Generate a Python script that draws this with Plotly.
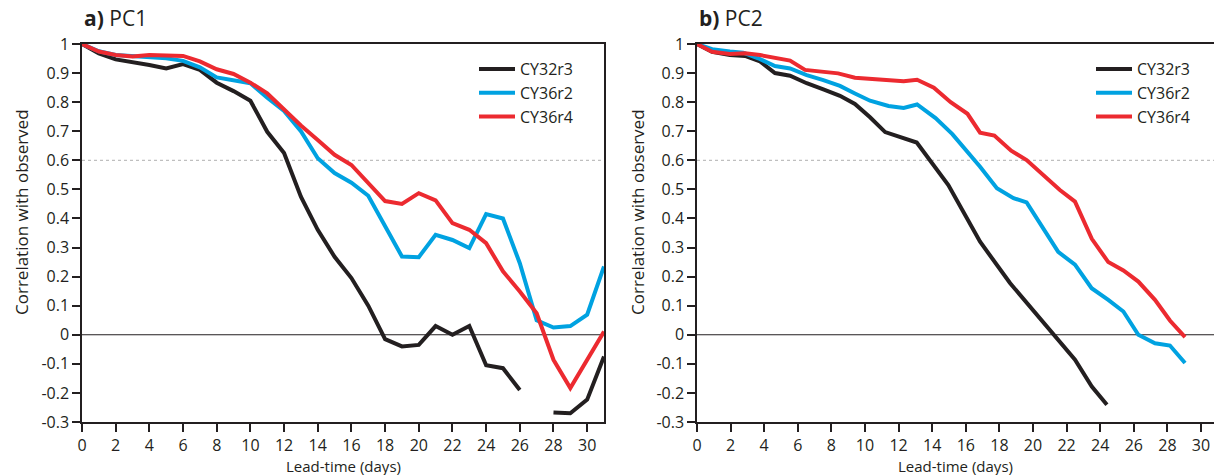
import plotly.graph_objects as go

# ---------------- data ----------------
days_a = list(range(0, 32))
cy32r3_a = [1.0, 0.968, 0.947, 0.939, 0.928, 0.916, 0.931, 0.911, 0.867, 0.838, 0.805, 0.698,
            0.625, 0.475, 0.361, 0.268, 0.195, 0.10, -0.015, -0.04, -0.035, 0.03, 0.0, 0.03,
            -0.105, -0.115, -0.19, None, -0.267, -0.27, -0.223, -0.075]
cy36r2_a = [1.0, 0.975, 0.962, 0.958, 0.955, 0.951, 0.942, 0.92, 0.885, 0.876, 0.865, 0.815,
            0.77, 0.70, 0.607, 0.556, 0.523, 0.478, 0.372, 0.269, 0.267, 0.344, 0.326, 0.298,
            0.415, 0.40, 0.246, 0.05, 0.025, 0.03, 0.069, 0.235]
cy36r4_a = [1.0, 0.974, 0.962, 0.957, 0.962, 0.962, 0.959, 0.94, 0.913, 0.897, 0.867, 0.83,
            0.775, 0.72, 0.67, 0.619, 0.584, 0.521, 0.46, 0.45, 0.487, 0.462, 0.384, 0.361,
            0.315, 0.218, 0.149, 0.074, -0.086, -0.183, -0.086, 0.011]

cy32r3_b_x = [0, 0.9, 1.96, 2.86, 3.75, 4.64, 5.54, 6.53, 7.52, 8.51, 9.4, 10.3, 11.2, 13.08,
              14.96, 16.85, 18.63, 19.9, 22.5, 23.5, 24.4]
cy32r3_b_y = [1.0, 0.973, 0.962, 0.959, 0.94, 0.90, 0.891, 0.865, 0.844, 0.822, 0.794, 0.748,
              0.697, 0.661, 0.515, 0.32, 0.178, 0.09, -0.086, -0.178, -0.241]
cy36r2_b_x = [0, 0.9, 1.96, 2.75, 3.64, 4.64, 5.54, 6.53, 7.52, 8.51, 9.4, 10.3, 11.4, 12.3,
              13.1, 14.2, 15.2, 16.85, 17.85, 18.84, 19.62, 21.5, 22.5, 23.49, 24.48, 25.38,
              26.27, 27.26, 28.15, 29.05]
cy36r2_b_y = [1.0, 0.982, 0.974, 0.97, 0.951, 0.924, 0.916, 0.893, 0.876, 0.856, 0.83, 0.805,
              0.787, 0.78, 0.792, 0.745, 0.69, 0.578, 0.504, 0.47, 0.455, 0.285, 0.241, 0.16,
              0.12, 0.08, 0.0, -0.029, -0.037, -0.097]
cy36r4_b_x = [0, 0.9, 1.96, 2.86, 3.75, 4.64, 5.54, 6.43, 7.52, 8.4, 9.4, 10.4, 11.4, 12.3,
              13.1, 14.1, 15.1, 16.1, 16.85, 17.7, 18.7, 19.62, 21.6, 22.5, 23.5, 24.48, 25.38,
              26.27, 27.26, 28.15, 29.05]
cy36r4_b_y = [1.0, 0.973, 0.966, 0.968, 0.962, 0.954, 0.943, 0.911, 0.903, 0.899, 0.884, 0.879,
              0.874, 0.872, 0.877, 0.85, 0.80, 0.76, 0.695, 0.685, 0.633, 0.601, 0.498, 0.458,
              0.33, 0.25, 0.221, 0.183, 0.12, 0.049, -0.008]

series_names = ["CY32r3", "CY36r2", "CY36r4"]
series_colors = ["#231f20", "#00a2e1", "#ec2a30"]

y_tickvals = [1, 0.9, 0.8, 0.7, 0.6, 0.5, 0.4, 0.3, 0.2, 0.1, 0, -0.1, -0.2, -0.3]
y_ticktext = ["1", "0.9", "0.8", "0.7", "0.6", "0.5", "0.4", "0.3", "0.2", "0.1", "0",
              "-0.1", "-0.2", "-0.3"]
x_tickvals = list(range(0, 31, 2))

# ---------------- figure ----------------
W, H = 1214, 475
ML, MR, MT, MB = 82, 0, 44, 53
PW = W - ML - MR
PH = H - MT - MB
FONT = "Open Sans"
TXT = "#231f20"

fig = go.Figure()

left = [(days_a, cy32r3_a), (days_a, cy36r2_a), (days_a, cy36r4_a)]
right = [(cy32r3_b_x, cy32r3_b_y), (cy36r2_b_x, cy36r2_b_y), (cy36r4_b_x, cy36r4_b_y)]

for i, (xs, ys) in enumerate(left):
    fig.add_trace(go.Scatter(x=xs, y=ys, mode="lines", name=series_names[i],
                             line=dict(color=series_colors[i], width=4),
                             connectgaps=False, xaxis="x", yaxis="y", legend="legend"))
for i, (xs, ys) in enumerate(right):
    fig.add_trace(go.Scatter(x=xs, y=ys, mode="lines", name=series_names[i],
                             line=dict(color=series_colors[i], width=4),
                             xaxis="x2", yaxis="y2", legend="legend2"))

def px2x(px):
    return (px - ML) / PW

def px2y(py):
    return 1 - (py - MT) / PH

left_dom = [0, px2x(604)]
right_dom = [px2x(697), 1]
right_end = (W - 697) / 16.8

axis_common = dict(showline=True, linecolor=TXT, linewidth=1.5, ticks="outside", ticklen=8,
                   tickwidth=1.5, tickcolor=TXT, showgrid=False, zeroline=False,
                   tickfont=dict(family=FONT, size=16, color=TXT))

legend_common = dict(xanchor="left", yanchor="top", bgcolor="rgba(0,0,0,0)",
                     font=dict(family=FONT, size=16, color=TXT), tracegroupgap=0,
                     itemwidth=36)

fig.update_layout(
    width=W, height=H, margin=dict(l=ML, r=MR, t=MT, b=MB),
    plot_bgcolor="white", paper_bgcolor="white", showlegend=True,
    xaxis=dict(domain=left_dom, range=[0, 31], tickvals=x_tickvals, anchor="y", mirror=True,
               **axis_common),
    yaxis=dict(domain=[0, 1], range=[-0.3, 1], tickvals=y_tickvals, ticktext=y_ticktext,
               anchor="x", mirror=True, **axis_common),
    xaxis2=dict(domain=right_dom, range=[0, right_end], tickvals=x_tickvals, anchor="y2",
                mirror=True, **axis_common),
    yaxis2=dict(domain=[0, 1], range=[-0.3, 1], tickvals=y_tickvals, ticktext=y_ticktext,
                anchor="x2", mirror=False, **axis_common),
    legend=dict(x=px2x(474), y=px2y(52), **legend_common),
    legend2=dict(x=px2x(1091), y=px2y(52), **legend_common),
)

# reference lines: dotted at 0.6, solid at 0
for xr, yr in (("x", "y"), ("x2", "y2")):
    fig.add_shape(type="line", xref=xr + " domain", yref=yr, x0=0, x1=1, y0=0.6, y1=0.6,
                  line=dict(color="#b0b0b0", width=1, dash="dot"), layer="below")
    fig.add_shape(type="line", xref=xr + " domain", yref=yr, x0=0, x1=1, y0=0, y1=0,
                  line=dict(color=TXT, width=1.2), layer="below")

# panel titles
fig.add_annotation(text="<b>a)</b> PC1", x=px2x(82), y=px2y(18), xref="paper", yref="paper",
                   xanchor="left", yanchor="middle", showarrow=False,
                   font=dict(family=FONT, size=21, color=TXT))
fig.add_annotation(text="<b>b)</b> PC2", x=px2x(697), y=px2y(18), xref="paper", yref="paper",
                   xanchor="left", yanchor="middle", showarrow=False,
                   font=dict(family=FONT, size=21, color=TXT))

# axis titles
for cx in (343, 955):
    fig.add_annotation(text="Lead-time (days)", x=px2x(cx), y=px2y(465.5), xref="paper",
                       yref="paper", xanchor="center", yanchor="middle", showarrow=False,
                       font=dict(family=FONT, size=15, color=TXT))
for cx in (21, 637):
    fig.add_annotation(text="Correlation with observed", x=px2x(cx), y=px2y(212),
                       xref="paper", yref="paper", xanchor="center", yanchor="middle",
                       textangle=-90, showarrow=False,
                       font=dict(family=FONT, size=17, color=TXT))

fig.write_html("out.html")
